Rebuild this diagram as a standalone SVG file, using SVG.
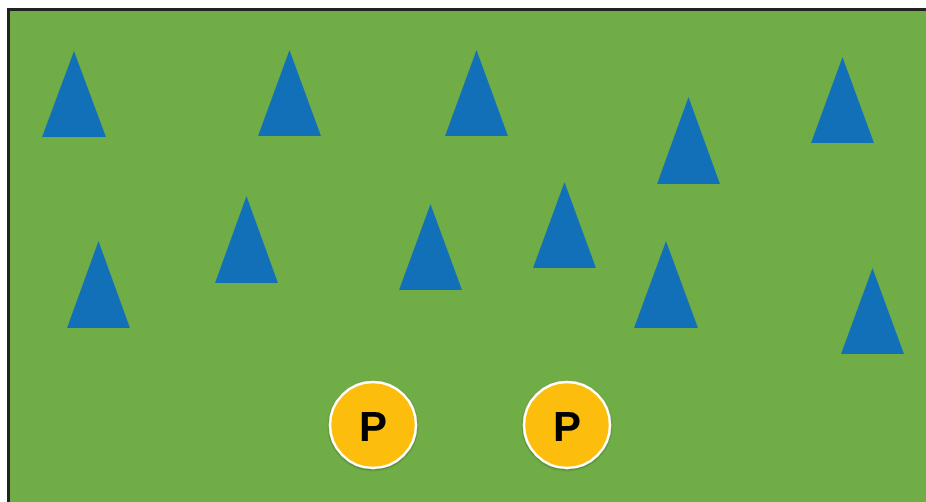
<svg xmlns="http://www.w3.org/2000/svg" width="926" height="502" viewBox="0 0 926 502">
<style>
.cone{fill:#1270B8}
.p circle{fill:#FDBD10;stroke:#fff;stroke-width:2.5}
.p text{font-family:"Liberation Sans",Arial,sans-serif;font-weight:bold;font-size:42px;fill:#000;text-anchor:middle}
</style>
<defs>
<filter id="sh" x="-20%" y="-20%" width="140%" height="140%"><feDropShadow dx="0" dy="1" stdDeviation="1.2" flood-opacity="0.35"/></filter>
</defs>
<rect width="926" height="502" fill="#fff"/>
<rect x="8.5" y="9.5" width="930" height="500" fill="#70AD47" stroke="#222" stroke-width="3"/>
<g id="cones">
<polygon id="c1" class="cone" points="74,51 106,137 42,137"/>
<polygon id="c2" class="cone" points="289.5,50 321,136 258,136"/>
<polygon id="c3" class="cone" points="476.5,50 508,136 445,136"/>
<polygon id="c4" class="cone" points="688.5,97 720,184 657,184"/>
<polygon id="c5" class="cone" points="842.5,57 874,143 811,143"/>
<polygon id="c6" class="cone" points="246.5,196 278,283 215,283"/>
<polygon id="c7" class="cone" points="430.5,204 462,290 399,290"/>
<polygon id="c8" class="cone" points="564.5,182 596,268 533,268"/>
<polygon id="c9" class="cone" points="98.5,241 130,328 67,328"/>
<polygon id="c10" class="cone" points="666,241 698,328 634,328"/>
<polygon id="c11" class="cone" points="872.5,268 904,354 841,354"/>
</g>
<g id="p1" class="p" filter="url(#sh)"><circle cx="373" cy="425" r="43"/><text x="373" y="441">P</text></g>
<g id="p2" class="p" filter="url(#sh)"><circle cx="567" cy="425" r="43"/><text x="567" y="441">P</text></g>
<g id="connectors"/>
</svg>
